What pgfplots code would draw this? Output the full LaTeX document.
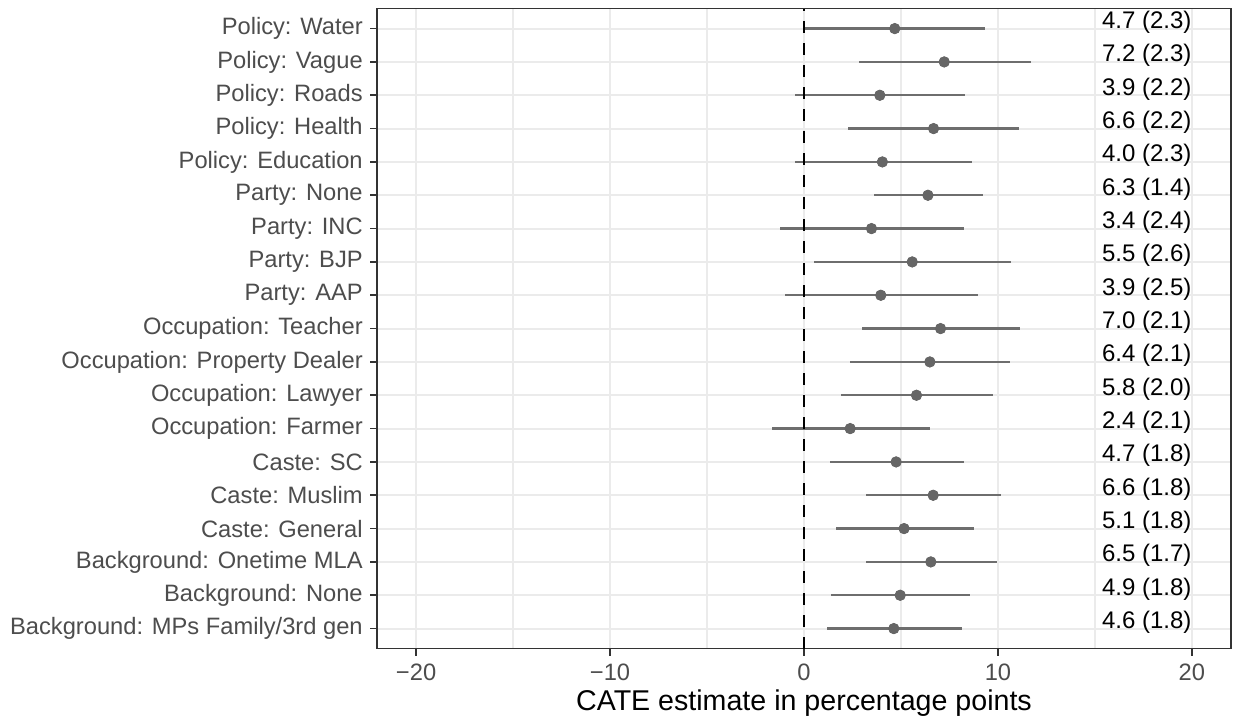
\documentclass[border=0pt]{standalone}
\usepackage{fontspec}
\setmainfont{Liberation Sans}
\usepackage{pgfplots}
\pgfplotsset{compat=1.18}
\usepackage{pgfplotstable}
\definecolor{gridc}{HTML}{EBEBEB}
\definecolor{axtext}{HTML}{4D4D4D}
\definecolor{framec}{HTML}{333333}
\definecolor{cic}{HTML}{6E6E6E}
\definecolor{ptc}{HTML}{666666}

\pgfplotstableread[col sep=comma]{
row,est,lo,hi,labx,lab
19,4.68,0.03,9.33,20,4.7 (2.3)
18,7.23,2.82,11.70,20,7.2 (2.3)
17,3.91,-0.45,8.31,20,3.9 (2.2)
16,6.68,2.27,11.10,20,6.6 (2.2)
15,4.04,-0.48,8.64,20,4.0 (2.3)
14,6.39,3.60,9.21,20,6.3 (1.4)
13,3.48,-1.26,8.26,20,3.4 (2.4)
12,5.58,0.50,10.69,20,5.5 (2.6)
11,3.96,-1.00,8.98,20,3.9 (2.5)
10,7.04,2.98,11.14,20,7.0 (2.1)
9,6.49,2.36,10.62,20,6.4 (2.1)
8,5.80,1.93,9.72,20,5.8 (2.0)
7,2.38,-1.64,6.49,20,2.4 (2.1)
6,4.75,1.33,8.24,20,4.7 (1.8)
5,6.66,3.22,10.15,20,6.6 (1.8)
4,5.16,1.64,8.76,20,5.1 (1.8)
3,6.54,3.18,9.97,20,6.5 (1.7)
2,4.96,1.38,8.55,20,4.9 (1.8)
1,4.63,1.17,8.14,20,4.6 (1.8)
}\catetable

\begin{document}
\begin{tikzpicture}
\fill[white] (0,0) rectangle (616.5pt,360.5pt);
\useasboundingbox (0,0) rectangle (616.5pt,360.5pt);
\begin{axis}[
  at={(188.65pt,36.2pt)}, anchor=south west,
  scale only axis, width=426.7pt, height=320pt,
  xmin=-22, xmax=22, ymin=0.4, ymax=19.6,
  xtick={-20,-10,0,10,20}, xticklabels={−20,−10,0,10,20},
  minor xtick={-15,-5,5,15},
  ytick={1,...,19},
  yticklabels={Background: MPs Family/3rd gen,Background: None,Background: Onetime MLA,Caste: General,Caste: Muslim,Caste: SC,Occupation: Farmer,Occupation: Lawyer,Occupation: Property Dealer,Occupation: Teacher,Party: AAP,Party: BJP,Party: INC,Party: None,Policy: Education,Policy: Health,Policy: Roads,Policy: Vague,Policy: Water},
  xmajorgrids, xminorgrids, ymajorgrids,
  major grid style={gridc, line width=1pt},
  minor grid style={gridc, line width=0.6pt},
  axis line style={framec, line width=0.8pt},
  tick style={framec, line width=0.8pt},
  major tick length=3.5pt, minor tick length=0pt,
  tick align=outside, xtick pos=bottom, ytick pos=left,
  ticklabel style={font=\fontsize{11.85}{13}\selectfont, text=axtext},
  xticklabel style={anchor=north, inner sep=0pt, yshift=-4pt},
  yticklabel style={anchor=east, inner sep=0pt, xshift=-3.6pt},
  xlabel={CATE estimate in percentage points},
  xlabel style={font=\fontsize{14.3}{16}\selectfont, at={(axis description cs:0.5,0)}, anchor=base, yshift=-31.05pt, inner sep=0pt},
]
\addplot[only marks, mark=none, draw=cic, line width=1.2pt,
  error bars/.cd, x dir=both, x explicit, error mark=none,
  error bar style={cic, line width=1.2pt}]
  table[x=est, y=row, x error plus expr=\thisrow{hi}-\thisrow{est}, x error minus expr=\thisrow{est}-\thisrow{lo}] {\catetable};
\addplot[black, line width=1pt, dash pattern=on 6pt off 5pt] coordinates {(0,0.4) (0,19.6)};
\addplot[only marks, mark=*, mark size=2.6pt, mark options={fill=ptc, draw=ptc}]
  table[x=est, y=row] {\catetable};
\addplot[only marks, mark=none, nodes near coords, point meta=explicit symbolic,
  every node near coord/.append style={anchor=base east, inner sep=0pt, font=\fontsize{12}{13}\selectfont, text=black}]
  table[x=labx, y=row, meta=lab] {\catetable};
\end{axis}
\end{tikzpicture}
\end{document}
